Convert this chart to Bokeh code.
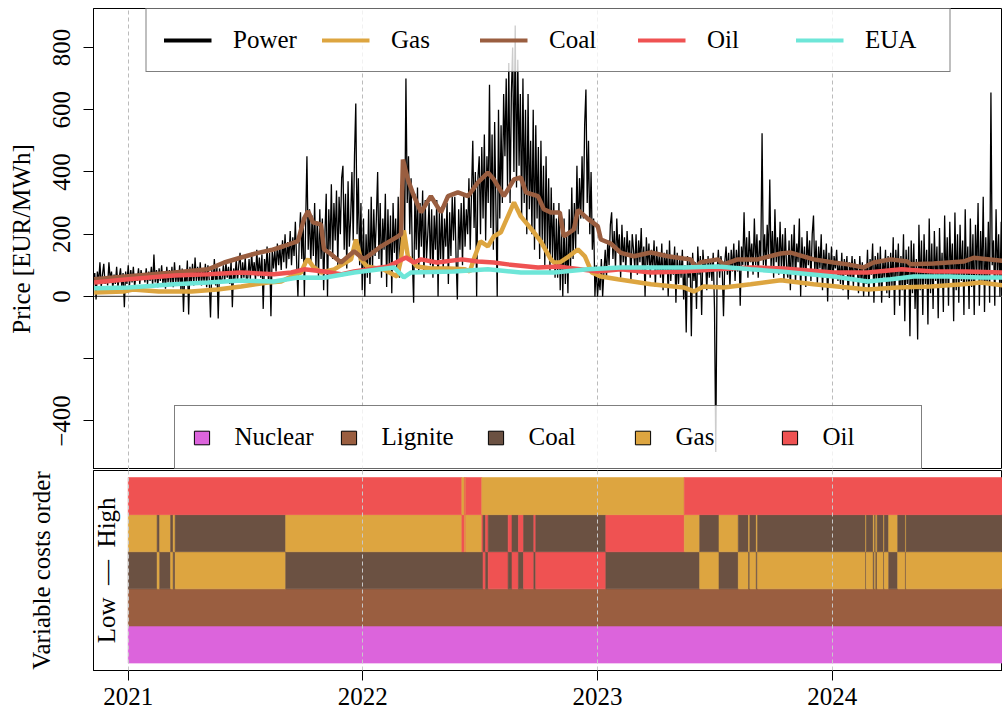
import math
import pandas as pd
from bokeh.plotting import figure
from bokeh.models import (Range1d, FixedTicker, Legend, LegendItem, Span, Label,
                          Grid, DatetimeTickFormatter, ColumnDataSource)
from bokeh.layouts import column
from bokeh.embed import file_html
from bokeh.resources import INLINE

FONT = "Liberation Serif"

# ---------------- data ----------------
# power price, one value every 2 days from 2020-11-08 (EUR/MWh)
power_start = "2020-11-08"
power_step_days = 2
power = [
    50, 75, -10, 80, 45, 110, 30, 70, 105, 40, 65, 35, 110, 55, 80, 25, 70, 40, 95, 30,
    60, 90, 30, 75, -35, 80, 40, 100, 35, 85, 45, 95, 30, 70, 50, 90, 40, 85, 55, 75,
    45, 90, 40, 80, 50, 95, 35, 135, 45, 85, 30, 90, 50, 100, 40, 80, 25, 95, 45, 85,
    40, 95, 30, 110, 45, 85, 35, 100, 20, 90, -50, 80, 40, 115, -58, 95, 45, 105, 35, 125,
    50, 95, 40, 110, 35, 90, 45, 105, 30, 100, 55, -68, 85, 40, 120, 35, 95, -71, 90, 50,
    55, 100, 45, 110, 60, 95, 40, 115, -35, 90, 55, 120, 50, 100, 140, 45, 110, 60, 125, 50,
    60, 120, 55, 140, 70, 110, 50, 150, 65, 125, 60, 135, -40, 120, 70, 160, 55, 140, -64, 150,
    90, 150, 80, 170, 100, 160, 85, 180, 110, 200, 90, 175, 120, 210, 100, 190, 130, 240, 110, 0,
    180, 270, 120, 250, 0, 230, 450, 150, 280, 100, 260, 130, 300, 90, 240, 60, 280, 120, 250, 20,
    200, 330, 0, 280, 150, 360, 120, 300, 180, 340, 100, 320, 200, 380, 420, 150, 330, 90, 370, 160,
    250, 400, 180, 450, 620, 200, 380, 100, 300, 20, 250, 0, 200, 60, 280, 40, 320, 90, 280, 130,
    250, 400, 120, 300, 60, 250, 150, 330, 30, 280, 100, 260, 10, 300, 140, 250, 80, 320, 60, 200,
    250, 400, 180, 700, 300, 450, 200, 380, 120, -20, 330, 150, 350, 80, 300, 160, 340, 60, 310, 120,
    200, 300, 100, 280, 60, 260, 150, 310, 0, 270, 120, 290, 80, 250, 160, 300, 40, 270, 130, 320,
    180, 320, 120, -10, 280, 150, 300, 100, 330, 160, 280, 200, 380, 150, 330, 500, 220, 400, 0, 380,
    450, 200, 480, 250, 520, 180, 450, 300, 680, 220, 520, 150, 560, 280, 0, 600, 250, 550, 300, 650,
    450, 700, 350, 750, 300, 650, 800, 400, 870, 350, 760, 420, 650, 250, 700, 300, 600, 200, 650, 280,
    500, 200, 600, 150, 550, 250, 480, 120, 500, 180, 420, 100, 450, 150, 380, 80, 350, 120, 300, 60,
    250, 60, 300, 20, 220, 0, 250, 40, 200, 10, 280, 80, 350, 120, 300, 150, 420, 200, 380, 250,
    450, 250, 550, 665, 300, 500, 200, 400, 150, 250, 0, 100, 0, 60, 20, 120, 0, 80, 150, 60,
    180, 100, 230, 270, 120, 210, 90, 250, 140, 200, 60, 230, 110, 190, 80, 210, 130, 180, 50, 200,
    150, 90, 200, 70, 180, 110, 220, 80, 160, 0, 190, 100, 170, 60, 150, 90, 180, 30, 160, 80,
    130, 60, 170, 20, 140, 80, 150, 0, 180, 50, 130, 70, 160, -20, 140, 40, 120, 60, 150, -10,
    100, -116, 130, 60, 120, -128, 140, 50, 110, -40, 160, 70, 130, -60, 150, 80, 120, 20, 130, 60,
    120, 50, 140, -40, -500, 80, 150, 60, 130, 90, -64, 110, 160, 70, 140, 30, 150, 80, 170, 50,
    150, 80, 180, -30, 160, 100, 270, 90, 190, 60, 210, 110, 170, 70, 250, 100, 200, 60, 180, 120,
    524, 100, 200, 80, 230, 120, 376, 90, 210, 60, 280, 110, 190, 70, 240, 90, 200, 50, 220, 100,
    60, 180, 20, 200, 90, 230, 40, 170, 110, 250, 0, 190, 80, 160, 30, 210, 100, 180, 50, 200,
    260, 70, 180, 40, 160, 90, 200, 20, 150, 80, 170, -16, 140, 60, 160, 30, 130, 90, 150, 50,
    110, 40, 140, 20, 120, 70, 130, -10, 110, 60, 130, 30, 120, 80, 100, 10, 130, 50, 110, 0,
    100, 40, 150, 0, 120, 70, 170, -20, 130, 50, 140, 20, 160, -20, 120, 60, 150, 10, 130, -5,
    140, 30, 190, -60, 150, 60, 170, -30, 130, 20, 200, -80, 150, 40, 160, -128, 180, 10, 170, -40,
    120, -138, 230, 20, 180, -60, 200, 40, 150, -90, 250, 10, 170, -40, 210, 50, 160, -70, 220, 30,
    140, -50, 260, 30, 190, -30, 240, 60, 170, -80, 270, 20, 200, -20, 230, 50, 180, -60, 280, 40,
    160, -40, 250, 30, 200, -60, 230, 60, 300, -30, 210, 50, 320, -50, 190, 40, 240, -20, 655, 100,
    180, -30, 280, 60, 200, 0, 240, 80,
]

# fuel cost series (decimal year, EUR/MWh)
coal_t = [2020.855, 2021.0, 2021.196, 2021.340, 2021.409, 2021.481, 2021.553, 2021.609, 2021.664, 2021.723,
          2021.749, 2021.766, 2021.787, 2021.821, 2021.834, 2021.855, 2021.906, 2021.962, 2022.004, 2022.077,
          2022.149, 2022.162, 2022.170, 2022.191, 2022.217, 2022.247, 2022.289, 2022.332, 2022.362, 2022.404,
          2022.447, 2022.489, 2022.532, 2022.557, 2022.600, 2022.643, 2022.672, 2022.694, 2022.745, 2022.770,
          2022.800, 2022.838, 2022.855, 2022.898, 2022.915, 2022.957, 2023.000, 2023.013, 2023.055, 2023.098,
          2023.153, 2023.226, 2023.298, 2023.366, 2023.396, 2023.417, 2023.438, 2023.511, 2023.536, 2023.596,
          2023.681, 2023.779, 2023.821, 2023.919, 2024.004, 2024.064, 2024.132, 2024.174, 2024.247, 2024.319,
          2024.332, 2024.430, 2024.557, 2024.600, 2024.728]
coal_v = [55, 65, 77, 87, 109, 125, 140, 149, 162, 178,
          250, 274, 238, 231, 151, 141, 109, 145, 119, 161,
          193, 200, 440, 376, 322, 270, 322, 270, 322, 334,
          322, 366, 398, 376, 322, 376, 382, 334, 322, 280,
          270, 270, 193, 215, 278, 250, 225, 183, 170, 140,
          129, 141, 129, 122, 119, 93, 110, 119, 103, 119,
          119, 138, 141, 119, 109, 103, 93, 109, 119, 112,
          103, 106, 112, 124, 114]

gas_t = [2020.855, 2020.98, 2021.02, 2021.13, 2021.27, 2021.38, 2021.481, 2021.596, 2021.651, 2021.694,
         2021.736, 2021.757, 2021.766, 2021.787, 2021.821, 2021.877, 2021.949, 2021.970, 2021.991, 2022.017,
         2022.085, 2022.145, 2022.162, 2022.174, 2022.191, 2022.230, 2022.289, 2022.366, 2022.434, 2022.455,
         2022.472, 2022.500, 2022.532, 2022.557, 2022.587, 2022.643, 2022.672, 2022.728, 2022.757, 2022.800,
         2022.813, 2022.838, 2022.877, 2022.915, 2022.945, 2022.974, 2023.013, 2023.085, 2023.226, 2023.366,
         2023.409, 2023.451, 2023.536, 2023.651, 2023.779, 2023.919, 2024.064, 2024.149, 2024.277, 2024.417,
         2024.557, 2024.630, 2024.728]
gas_v = [13, 16, 22, 16, 16, 22, 32, 45, 48, 64,
         77, 112, 119, 96, 77, 87, 119, 183, 119, 96,
         87, 64, 119, 212, 129, 96, 90, 90, 87, 80,
         120, 177, 161, 193, 206, 302, 257, 206, 177, 119,
         109, 109, 129, 151, 129, 77, 64, 55, 39, 29,
         16, 32, 29, 39, 52, 39, 29, 22, 29, 32,
         39, 45, 35]

oil_t = [2020.855, 2021.0, 2021.196, 2021.340, 2021.481, 2021.621, 2021.694, 2021.749, 2021.834, 2021.906,
         2021.962, 2022.106, 2022.183, 2022.217, 2022.247, 2022.315, 2022.421, 2022.489, 2022.557, 2022.617,
         2022.745, 2022.834, 2022.864, 2023.000, 2023.098, 2023.226, 2023.366, 2023.511, 2023.651, 2023.791,
         2024.004, 2024.149, 2024.294, 2024.430, 2024.570, 2024.728]
oil_v = [45, 55, 67, 71, 77, 71, 77, 87, 80, 71,
         80, 96, 125, 109, 119, 109, 119, 112, 109, 103,
         93, 96, 93, 80, 87, 77, 80, 87, 93, 90,
         77, 77, 87, 80, 80, 77]

eua_t = [2020.855, 2021.0, 2021.196, 2021.340, 2021.481, 2021.621, 2021.723, 2021.834, 2021.962, 2022.132,
         2022.174, 2022.204, 2022.387, 2022.532, 2022.672, 2022.813, 2022.957, 2023.098, 2023.226, 2023.366,
         2023.511, 2023.651, 2023.791, 2024.004, 2024.149, 2024.247, 2024.345, 2024.489, 2024.630, 2024.728]
eua_v = [26, 29, 39, 45, 51, 48, 61, 60, 77, 93,
         61, 77, 80, 87, 77, 77, 87, 93, 93, 93,
         96, 87, 79, 64, 48, 55, 64, 64, 61, 61]

# variable cost merit order: segment start dates and fuel in rows 3, 4, 5 (rows 1, 2 = Nuclear, Lignite)
order_start = ["2021-01-01", "2021-02-15", "2021-02-19", "2021-03-08", "2021-03-12", "2021-03-15",
               "2021-09-03", "2022-06-04", "2022-06-08", "2022-06-09", "2022-06-10", "2022-07-05",
               "2022-07-07", "2022-07-11", "2022-07-15", "2022-08-15", "2022-08-21", "2022-08-31",
               "2022-09-08", "2022-09-24", "2022-09-27", "2023-01-14", "2023-05-16", "2023-06-09",
               "2023-07-09", "2023-08-08", "2023-08-24", "2023-08-26", "2023-09-05", "2023-09-07",
               "2024-02-22", "2024-02-23", "2024-03-05", "2024-03-07", "2024-03-09", "2024-03-11",
               "2024-03-21", "2024-03-22", "2024-03-29", "2024-04-12", "2024-04-24", "2024-04-25"]
order_end = "2024-09-23"
order_codes = ["CGO", "GCO", "CGO", "GCO", "CGO", "GCO",
               "CGO", "COG", "CGO", "COG", "CGO", "COG",
               "OCG", "COG", "OCG", "COG", "OCG", "COG",
               "OCG", "COG", "OCG", "COG", "CGO", "GCO",
               "CGO", "GCO", "CGO", "GCO", "CGO", "GCO",
               "CGO", "GCO", "CGO", "GCO", "CGO", "GCO",
               "CGO", "GCO", "CGO", "GCO", "CGO", "GCO"]
code_names = {"C": "Coal", "G": "Gas", "O": "Oil"}

fuels = ["Nuclear", "Lignite", "Coal", "Gas", "Oil"]
fuel_colors = {"Nuclear": "#DC64DC", "Lignite": "#9A5E40", "Coal": "#6B5142",
               "Gas": "#DDA540", "Oil": "#EF5252"}

series_names = ["Power", "Gas", "Coal", "Oil", "EUA"]
series_colors = {"Power": "#000000", "Gas": "#DDA540", "Coal": "#9A5E40",
                 "Oil": "#EF5252", "EUA": "#6EE6D8"}

year_ticks = [2021, 2022, 2023, 2024]
price_ticks = [-400, -200, 0, 200, 400, 600, 800]

# ---------------- helpers ----------------
BASE = pd.Timestamp("2021-01-01")


def to_dt(years):
    return [BASE + pd.Timedelta(days=(y - 2021) * 365.25) for y in years]


power_dates = list(pd.date_range(power_start, periods=len(power), freq=f"{power_step_days}D"))
x0 = pd.Timestamp("2020-11-08")
x1 = pd.Timestamp("2024-09-22")
year_ms = [pd.Timestamp(f"{y}-01-01").value / 1e6 for y in year_ticks]
NAN = float("nan")

# ---------------- top panel ----------------
p = figure(frame_width=909, frame_height=461, x_axis_type="datetime", x_axis_location=None,
           x_range=Range1d(x0, x1), y_range=Range1d(-556, 925),
           output_backend="svg", toolbar_location=None,
           min_border_left=93, min_border_right=0, min_border_top=8, min_border_bottom=0)
p.xgrid.visible = False
p.ygrid.visible = False
p.outline_line_color = "black"
p.outline_line_width = 1
p.background_fill_color = "white"
p.border_fill_color = "white"

p.add_layout(Grid(dimension=0, ticker=FixedTicker(ticks=year_ms), grid_line_color="#BBBBBB",
                  grid_line_dash="4 3", grid_line_width=1))
p.add_layout(Span(location=0, dimension="width", line_color="#555555", line_width=1.3, level="underlay"))

p.line(power_dates, power, line_color=series_colors["Power"], line_width=1.3)
p.line(to_dt(gas_t), gas_v, line_color=series_colors["Gas"], line_width=4.5)
p.line(to_dt(coal_t), coal_v, line_color=series_colors["Coal"], line_width=4.5)
p.line(to_dt(oil_t), oil_v, line_color=series_colors["Oil"], line_width=4.5)
p.line(to_dt(eua_t), eua_v, line_color=series_colors["EUA"], line_width=4.5)

ya = p.yaxis[0]
ya.ticker = FixedTicker(ticks=price_ticks)
ya.major_label_overrides = {t: ("" if t == -200 else str(t).replace("-", "\u2212")) for t in price_ticks}
ya.major_label_orientation = "vertical"
ya.major_label_text_font = FONT
ya.major_label_text_font_size = "25px"
ya.major_label_text_color = "black"
ya.major_tick_out = 10
ya.major_tick_in = 0
ya.minor_tick_line_color = None
ya.major_label_standoff = 13
ya.axis_label = "Price [EUR/MWh]"
ya.axis_label_text_font = FONT
ya.axis_label_text_font_size = "25px"
ya.axis_label_text_font_style = "normal"
ya.axis_label_text_color = "black"
ya.axis_label_standoff = 16
ya.axis_line_color = "black"

# legend for price lines (proxy renderers holding no visible point)
line_items = []
for name in series_names:
    r = p.line(x=[x0], y=[NAN], line_color=series_colors[name], line_width=4)
    line_items.append(LegendItem(label=name, renderers=[r]))
leg1 = Legend(items=line_items, orientation="horizontal", location="top_center", margin=0,
              padding=17, spacing=21, glyph_width=48, glyph_height=28, label_standoff=22,
              label_width=67, label_text_font=FONT, label_text_font_size="25px",
              label_text_color="black", border_line_color="black", border_line_width=1,
              background_fill_color="white", background_fill_alpha=0.8)
p.add_layout(leg1, "center")

box_items = []
for f in fuels:
    r = p.quad(left=[x0], right=[x0], top=[NAN], bottom=[NAN], fill_color=fuel_colors[f],
               line_color="black", line_width=1)
    box_items.append(LegendItem(label=f, renderers=[r]))
leg2 = Legend(items=box_items, orientation="horizontal", location="bottom_center", margin=0,
              padding=17, spacing=23, glyph_width=19, glyph_height=17, label_standoff=24,
              label_width=81, label_text_font=FONT, label_text_font_size="25px",
              label_text_color="black", border_line_color="black", border_line_width=1,
              background_fill_color="white", background_fill_alpha=0.8)
p.add_layout(leg2, "center")

# ---------------- bottom panel ----------------
q = figure(frame_width=909, frame_height=200, x_axis_type="datetime", x_range=p.x_range,
           y_range=Range1d(-0.2, 5.19), output_backend="svg", toolbar_location=None,
           min_border_left=93, min_border_right=0, min_border_top=1, min_border_bottom=44)
q.xgrid.visible = False
q.ygrid.visible = False
q.outline_line_color = "black"
q.outline_line_width = 1
q.background_fill_color = "white"
q.border_fill_color = "white"

# build per-row runs of identical fuel from the segment table
ends = order_start[1:] + [order_end]
src = dict(left=[], right=[], bottom=[], top=[], color=[])
for k in range(5):
    run_fuel, run_start, run_end = None, None, None
    for s, e, code in zip(order_start, ends, order_codes):
        rows = ["Nuclear", "Lignite"] + [code_names[c] for c in code]
        f = rows[k]
        if f == run_fuel:
            run_end = e
        else:
            if run_fuel is not None:
                src["left"].append(pd.Timestamp(run_start)); src["right"].append(pd.Timestamp(run_end))
                src["bottom"].append(k); src["top"].append(k + 1); src["color"].append(fuel_colors[run_fuel])
            run_fuel, run_start, run_end = f, s, e
    src["left"].append(pd.Timestamp(run_start)); src["right"].append(pd.Timestamp(run_end))
    src["bottom"].append(k); src["top"].append(k + 1); src["color"].append(fuel_colors[run_fuel])

q.quad(left="left", right="right", bottom="bottom", top="top", fill_color="color",
       line_color="color", line_width=0.6, source=ColumnDataSource(src))

q.add_layout(Grid(dimension=0, ticker=FixedTicker(ticks=year_ms), grid_line_color="#C8C8C8",
                  grid_line_dash="4 3", grid_line_width=1, level="overlay"))

label_x = (x0 + pd.Timedelta(days=20)).value / 1e6
q.add_layout(Label(x=label_x, y=2.5, text="Low\u00a0\u00a0\u2014\u00a0\u00a0High", angle=math.pi / 2,
                   text_align="center", text_baseline="middle", text_font=FONT,
                   text_font_size="25px", text_color="black"))

xa = q.xaxis[0]
xa.ticker = FixedTicker(ticks=year_ms)
xa.formatter = DatetimeTickFormatter(years="%Y", months="%Y", days="%Y", hours="%Y",
                                     minutes="%Y", seconds="%Y", milliseconds="%Y")
xa.major_label_text_font = FONT
xa.major_label_text_font_size = "25px"
xa.major_label_text_color = "black"
xa.major_tick_out = 10
xa.major_tick_in = 0
xa.minor_tick_line_color = None
xa.major_label_standoff = 7
xa.axis_line_color = "black"

yb = q.yaxis[0]
yb.ticker = FixedTicker(ticks=[])
yb.major_tick_out = 0
yb.major_tick_in = 0
yb.minor_tick_line_color = None
yb.major_label_standoff = 0
yb.axis_label = "Variable costs order"
yb.axis_label_text_font = FONT
yb.axis_label_text_font_size = "25px"
yb.axis_label_text_font_style = "normal"
yb.axis_label_text_color = "black"
yb.axis_label_standoff = 39
yb.axis_line_color = "black"

layout = column(p, q, spacing=0)
open("out.html", "w").write(file_html(layout, INLINE))
